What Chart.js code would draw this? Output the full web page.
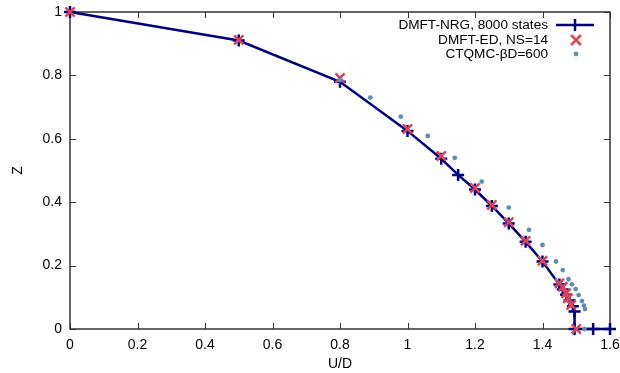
<!DOCTYPE html>
<html>
<head>
<meta charset="utf-8">
<script src="https://cdn.jsdelivr.net/npm/chart.js@4/dist/chart.umd.min.js"></script>
<style>
html,body{margin:0;padding:0;background:#fff;}
#wrap{width:620px;height:373px;position:relative;}
</style>
</head>
<body>
<div id="wrap"><canvas id="c" width="620" height="373"></canvas></div>
<script>
// ---- data ----
const xTicks = [0, 0.2, 0.4, 0.6, 0.8, 1, 1.2, 1.4, 1.6];
const yTicks = [0, 0.2, 0.4, 0.6, 0.8, 1];

const nrgU = [0, 0.5, 0.8, 1.0, 1.1, 1.15, 1.2, 1.25, 1.3, 1.35, 1.4, 1.45, 1.46, 1.47, 1.48, 1.49, 1.495, 1.495, 1.55, 1.6];
const nrgZ = [1, 0.91, 0.78, 0.625, 0.537, 0.486, 0.44, 0.388, 0.333, 0.275, 0.213, 0.14, 0.125, 0.108, 0.09, 0.072, 0.055, 0, 0, 0];

const edU = [0, 0.5, 0.8, 1.0, 1.1, 1.2, 1.25, 1.3, 1.35, 1.4, 1.45, 1.46, 1.47, 1.475, 1.485, 1.5];
const edZ = [1, 0.912, 0.792, 0.631, 0.546, 0.445, 0.391, 0.337, 0.278, 0.215, 0.144, 0.133, 0.113, 0.097, 0.076, 0];

const qmcU = [0.8, 0.89, 0.98, 1.06, 1.14, 1.22, 1.3, 1.36, 1.4, 1.44, 1.46, 1.477, 1.487, 1.498, 1.507, 1.517, 1.523, 1.526, 1.524];
const qmcZ = [0.785, 0.73, 0.67, 0.609, 0.54, 0.465, 0.383, 0.313, 0.265, 0.213, 0.186, 0.157, 0.141, 0.126, 0.107, 0.088, 0.074, 0.063, 0];

const seriesNames = ['DMFT-NRG, 8000 states', 'DMFT-ED, NS=14', 'CTQMC-βD=600'];
const xTitle = 'U/D';
const yTitle = 'Z';

const NAVY = '#00007f';
const RED = '#d8465c';
const BLUE = '#5e8fb3';
const FONT = '"Liberation Sans", Arial, Helvetica, sans-serif';

const pts = (xs, ys) => xs.map((x, i) => ({x: x, y: ys[i]}));

const frame = {
  id: 'frame',
  beforeDatasetsDraw(chart) {
    const ctx = chart.ctx, a = chart.chartArea;
    const xs = chart.scales.x, ys = chart.scales.y;
    ctx.save();
    ctx.strokeStyle = '#000';
    ctx.lineWidth = 1.2;
    ctx.strokeRect(a.left, a.top, a.right - a.left, a.bottom - a.top);
    ctx.lineWidth = 1;
    ctx.strokeStyle = '#333';
    ctx.beginPath();
    const L = 6;
    xTicks.forEach(v => {
      const px = Math.round(xs.getPixelForValue(v)) + 0.5;
      ctx.moveTo(px, a.bottom); ctx.lineTo(px, a.bottom - L);
      ctx.moveTo(px, a.top); ctx.lineTo(px, a.top + L);
    });
    yTicks.forEach(v => {
      const py = Math.round(ys.getPixelForValue(v)) + 0.5;
      ctx.moveTo(a.left, py); ctx.lineTo(a.left + L, py);
      ctx.moveTo(a.right, py); ctx.lineTo(a.right - L, py);
    });
    ctx.stroke();
    ctx.restore();
  },
  afterDraw(chart) {
    const ctx = chart.ctx;
    ctx.save();
    ctx.font = '13.6px ' + FONT;
    ctx.fillStyle = '#000';
    ctx.textAlign = 'right';
    ctx.textBaseline = 'middle';
    const tx = 548, rows = [25, 40, 54], sx = 576;
    seriesNames.forEach((n, i) => ctx.fillText(n, tx, rows[i]));
    // NRG sample
    ctx.strokeStyle = NAVY; ctx.lineWidth = 2.5;
    ctx.beginPath(); ctx.moveTo(556, rows[0]); ctx.lineTo(594, rows[0]);
    ctx.moveTo(sx - 1, rows[0] - 6); ctx.lineTo(sx - 1, rows[0] + 6);
    ctx.stroke();
    // ED sample
    ctx.strokeStyle = RED; ctx.lineWidth = 2.5;
    ctx.beginPath();
    ctx.moveTo(sx - 5, rows[1] - 5); ctx.lineTo(sx + 5, rows[1] + 5);
    ctx.moveTo(sx + 5, rows[1] - 5); ctx.lineTo(sx - 5, rows[1] + 5);
    ctx.stroke();
    // QMC sample
    ctx.fillStyle = BLUE;
    ctx.beginPath(); ctx.arc(sx, rows[2], 2.4, 0, Math.PI * 2); ctx.fill();
    ctx.restore();
  }
};

new Chart(document.getElementById('c'), {
  type: 'scatter',
  data: {
    datasets: [
      {
        label: seriesNames[0], data: pts(nrgU, nrgZ), showLine: true,
        borderColor: NAVY, backgroundColor: NAVY, borderWidth: 2.5,
        pointStyle: 'cross', pointRadius: 6, pointBorderWidth: 2.5, pointHoverRadius: 6,
        order: 3, clip: false
      },
      {
        label: seriesNames[1], data: pts(edU, edZ), showLine: false,
        borderColor: RED, backgroundColor: RED,
        pointStyle: 'crossRot', pointRadius: 6.5, pointBorderWidth: 2.5,
        order: 2, clip: false
      },
      {
        label: seriesNames[2], data: pts(qmcU, qmcZ), showLine: false,
        borderColor: BLUE, backgroundColor: BLUE,
        pointStyle: 'circle', pointRadius: 2.4, pointBorderWidth: 0,
        order: 1, clip: false
      }
    ]
  },
  options: {
    responsive: false,
    animation: false,
    events: [],
    layout: {padding: {top: 12, right: 10, left: 0, bottom: 0}},
    plugins: {legend: {display: false}, tooltip: {enabled: false}},
    scales: {
      x: {
        type: 'linear', min: 0, max: 1.6,
        afterBuildTicks: s => { s.ticks = xTicks.map(v => ({value: v})); },
        afterFit: s => { s.height = 44; s.paddingLeft = 0; s.paddingRight = 0; },
        grid: {display: false, drawTicks: false},
        border: {display: false},
        ticks: {color: '#000', font: {size: 14, family: FONT}, padding: 8, maxRotation: 0, autoSkip: false,
          callback: v => String(v)},
        title: {display: true, text: xTitle, color: '#000', font: {size: 14, family: FONT}, padding: {top: 0, bottom: 0}}
      },
      y: {
        type: 'linear', min: 0, max: 1,
        afterBuildTicks: s => { s.ticks = yTicks.map(v => ({value: v})); },
        afterFit: s => { s.width = 70; s.paddingTop = 0; s.paddingBottom = 0; },
        grid: {display: false, drawTicks: false},
        border: {display: false},
        ticks: {color: '#000', font: {size: 14, family: FONT}, padding: 8, autoSkip: false,
          callback: v => String(v)},
        title: {display: true, text: yTitle, color: '#000', font: {size: 14, family: FONT}, padding: {top: 10, bottom: 0}}
      }
    }
  },
  plugins: [frame]
});
</script>
</body>
</html>
